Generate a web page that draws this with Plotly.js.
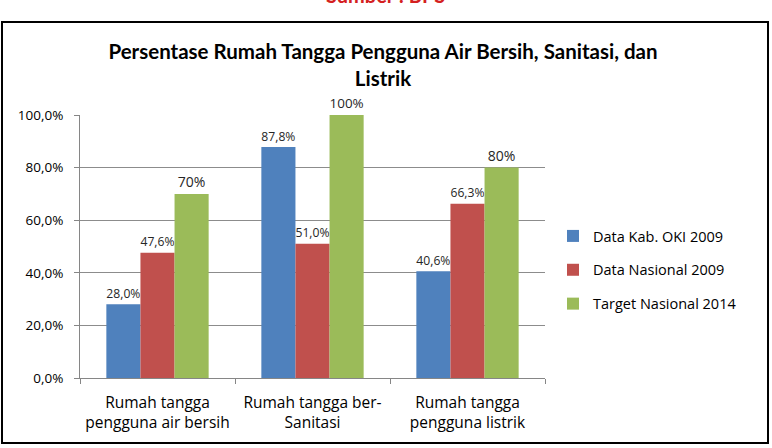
<!DOCTYPE html>
<html>
<head>
<meta charset="utf-8">
<script src="https://cdn.plot.ly/plotly-3.0.1.min.js"></script>
<style>html,body{margin:0;padding:0;background:#fff;}#chart{width:772px;height:448px;}</style>
</head>
<body>
<div id="chart"></div>
<script>
const categories = ["Rumah tangga<br>pengguna air bersih", "Rumah tangga ber-<br>Sanitasi", "Rumah tangga<br>pengguna listrik"];
const seriesNames = ["Data Kab. OKI 2009", "Data Nasional 2009", "Target Nasional 2014"];
const okiValues = [28.0, 87.8, 40.6];
const nasionalValues = [47.6, 51.0, 66.3];
const targetValues = [70, 100, 80];
const yTickValues = [0, 20, 40, 60, 80, 100];
const yTickLabels = ["0,0%", "20,0%", "40,0%", "60,0%", "80,0%", "100,0%"];

const colors = ["#4F81BD", "#C0504D", "#9BBB59"];
const font = "'Open Sans', sans-serif";
const titleFont = "Lato, 'Open Sans', sans-serif";

function bar(name, values, color, tpl, grp) {
  return {
    type: "bar", name: name, x: categories, y: values,
    marker: {color: color},
    texttemplate: tpl, textposition: "outside", cliponaxis: false,
    textfont: {family: font, size: 14, color: "#262626"},
    legendgroup: grp, hoverinfo: "skip"
  };
}
const traces = [
  bar(seriesNames[0], okiValues, colors[0], "%{y:.1f}%", "a"),
  bar(seriesNames[1], nasionalValues, colors[1], "%{y:.1f}%", "b"),
  bar(seriesNames[2], targetValues, colors[2], "%{y:.0f}%", "c")
];

const L = 80, R = 545, T = 115, B = 378, W = 772, H = 448;
const px = x => (x - L) / (R - L);
const py = y => (B - y) / (B - T);

const layout = {
  width: W, height: H,
  margin: {l: L, r: W - R, t: T, b: H - B, pad: 0},
  paper_bgcolor: "#fff", plot_bgcolor: "#fff",
  separators: ",.",
  font: {family: font, size: 14, color: "#000"},
  barmode: "group", bargap: 0.34, bargroupgap: 0,
  title: {
    text: "<b>Persentase Rumah Tangga Pengguna Air Bersih, Sanitasi, dan<br>Listrik</b>",
    font: {family: titleFont, size: 20.5, color: "#000"},
    x: 383 / W, xref: "container", xanchor: "center",
    y: 1 - 59 / H, yref: "container", yanchor: "middle"
  },
  xaxis: {
    type: "category", showgrid: false, showline: true, linecolor: "#868686", linewidth: 1,
    ticks: "outside", tickson: "boundaries", ticklen: 5, tickcolor: "#868686",
    ticklabelstandoff: 10,
    tickfont: {family: font, size: 15.5, color: "#000"}, fixedrange: true
  },
  yaxis: {
    range: [0, 100], tickmode: "array", tickvals: yTickValues, ticktext: yTickLabels,
    showgrid: true, gridcolor: "#8c8c8c", gridwidth: 1,
    showline: true, linecolor: "#868686", ticks: "outside", ticklen: 5, tickcolor: "#868686",
    ticklabelstandoff: 8,
    tickfont: {family: font, size: 13.5, color: "#000"}, zeroline: false, fixedrange: true
  },
  legend: {
    x: px(553), y: py(270), xanchor: "left", yanchor: "middle",
    font: {family: font, size: 14.5, color: "#000"},
    traceorder: "grouped", tracegroupgap: 12, bgcolor: "rgba(0,0,0,0)",
    itemwidth: 30
  },
  shapes: [{
    type: "rect", xref: "paper", yref: "paper",
    x0: px(2), x1: px(768), y0: py(443), y1: py(22),
    line: {color: "#000", width: 2}, fillcolor: "rgba(0,0,0,0)", layer: "below"
  }],
  annotations: [{
    text: "<b>Sumber : BPS</b>", xref: "paper", yref: "paper",
    x: px(385), y: py(9), xanchor: "center", yanchor: "bottom",
    showarrow: false, font: {family: titleFont, size: 20, color: "#d42020"}
  }]
};

Plotly.newPlot("chart", traces, layout, {staticPlot: true, displayModeBar: false});
</script>
</body>
</html>
